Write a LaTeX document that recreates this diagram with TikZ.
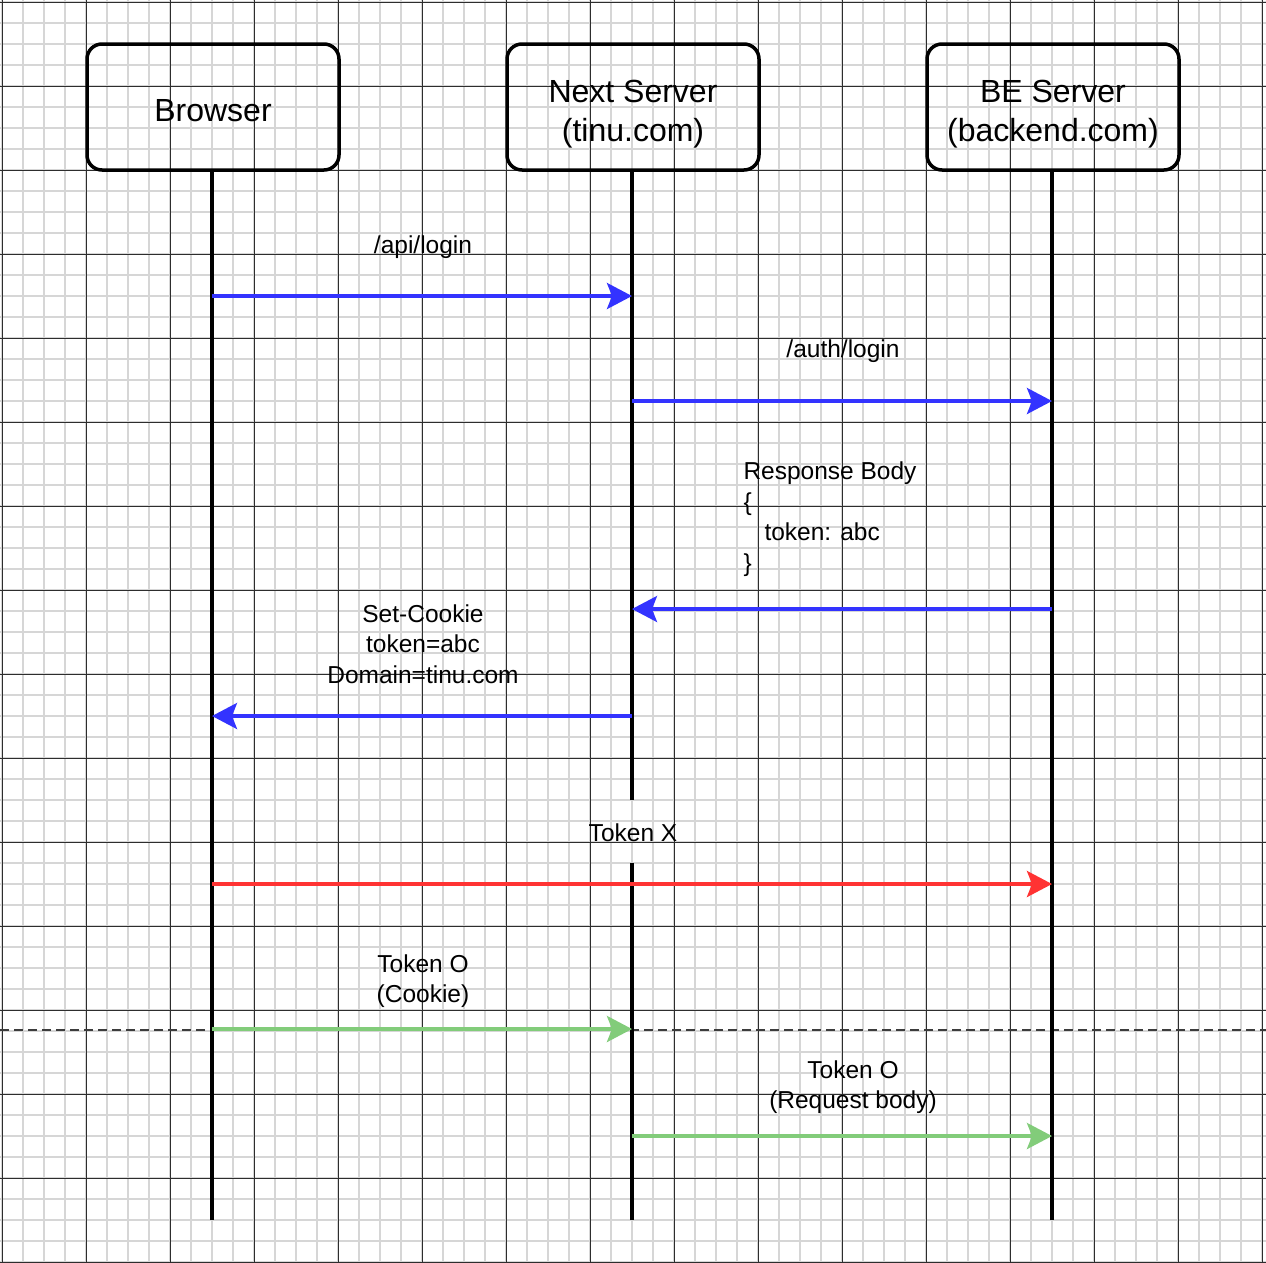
\documentclass[tikz,border=0pt]{standalone}
\usepackage{fontspec}
\setmainfont{Liberation Sans}
\usetikzlibrary{arrows.meta}
\definecolor{msgblue}{RGB}{51,51,255}
\definecolor{msgred}{RGB}{255,51,51}
\definecolor{msggreen}{RGB}{130,204,122}
\definecolor{gridminor}{RGB}{214,214,214}
\definecolor{gridmajor}{RGB}{45,45,45}
\definecolor{sepgray}{RGB}{60,60,60}
\newcommand{\actortext}[1]{\raisebox{-7pt}[\height][\depth]{\begin{tabular}{@{}c@{}}#1\end{tabular}}}
\tikzset{
  minorline/.style={draw=gridminor, line width=1.8pt},
  majorline/.style={draw=gridmajor, line width=1pt},
  actor/.style={draw=black, line width=3.5pt, rounded corners=15pt, minimum width=252pt, minimum height=126pt, inner sep=0pt, align=center, font=\fontsize{32}{39}\selectfont},
  lifeline/.style={draw=black, line width=3.5pt},
  msg/.style={line width=3.5pt, -{Stealth[length=25pt,width=26pt,inset=5pt]}},
  bluemsg/.style={msg, draw=msgblue, fill=msgblue},
  redmsg/.style={msg, draw=msgred, fill=msgred},
  greenmsg/.style={msg, draw=msggreen, fill=msggreen},
  lbl/.style={inner sep=0pt, align=center, font=\fontsize{24.5}{30.5}\selectfont},
  sepline/.style={draw=sepgray, line width=1.3pt, dash pattern=on 9pt off 5pt}
}
\begin{document}
\begin{tikzpicture}[x=1pt,y=-1pt]
\useasboundingbox (0,0) rectangle (1266,1262);
\fill[white] (0,0) rectangle (1266,1262);
% grid
\foreach \i in {0,...,60} {\draw[minorline] (2+21*\i,0) -- (2+21*\i,1262);}
\foreach \i in {0,...,60} {\draw[minorline] (0,2+21*\i) -- (1266,2+21*\i);}
\foreach \i in {0,...,15} {\draw[majorline] (2+84*\i,0) -- (2+84*\i,1262);}
\foreach \i in {0,...,15} {\draw[majorline] (0,2+84*\i) -- (1266,2+84*\i);}
% separator
\coordinate (sepL) at (0,1030);
\coordinate (sepR) at (1266,1030);
\draw[sepline] (sepL) -- (sepR);
% actors
\node[actor] (browser) at (213,107) {\actortext{Browser}};
\node[actor] (next) at (633,107) {\actortext{Next Server\\(tinu.com)}};
\node[actor] (be) at (1053,107) {\actortext{BE Server\\(backend.com)}};
% lifeline ends
\coordinate (browserEnd) at (212,1220);
\coordinate (nextGapTop) at (632,800);
\coordinate (nextGapBot) at (632,863);
\coordinate (nextEnd) at (632,1220);
\coordinate (beEnd) at (1052,1220);
\draw[lifeline] (browser.south -| browserEnd) -- (browserEnd);
\draw[lifeline] (next.south -| nextEnd) -- (nextGapTop);
\draw[lifeline] (nextGapBot) -- (nextEnd);
\draw[lifeline] (be.south -| beEnd) -- (beEnd);
% message points
\coordinate (b1) at (212,296);  \coordinate (n1) at (632,296);
\coordinate (n2) at (632,401);  \coordinate (e2) at (1052,401);
\coordinate (e3) at (1052,609); \coordinate (n3) at (632,609);
\coordinate (n4) at (632,716);  \coordinate (b4) at (212,716);
\coordinate (b5) at (212,884);  \coordinate (e5) at (1052,884);
\coordinate (b6) at (212,1029); \coordinate (n6) at (632,1029);
\coordinate (n7) at (632,1136); \coordinate (e7) at (1052,1136);
% messages
\draw[bluemsg] (b1) -- (n1);
\draw[bluemsg] (n2) -- (e2);
\draw[bluemsg] (e3) -- (n3);
\draw[bluemsg] (n4) -- (b4);
\draw[redmsg] (b5) -- (e5);
\draw[greenmsg] (b6) -- (n6);
\draw[greenmsg] (n7) -- (e7);
% labels
\node[lbl] (l1) at (423,247) {/api/login};
\node[lbl] (l2) at (843,351) {/auth/login};
\node[lbl, align=left] (l3) at (830,519) {Response Body\\\{\\\hspace*{21pt}token: abc\\\}};
\node[lbl] (l4) at (423,644) {Set-Cookie\\token=abc\\Domain=tinu.com};
\node[lbl] (l5) at (633,833) {Token X};
\node[lbl] (l6) at (423,981) {Token O\\(Cookie)};
\node[lbl] (l7) at (853,1087) {Token O\\(Request body)};
\end{tikzpicture}
\end{document}
